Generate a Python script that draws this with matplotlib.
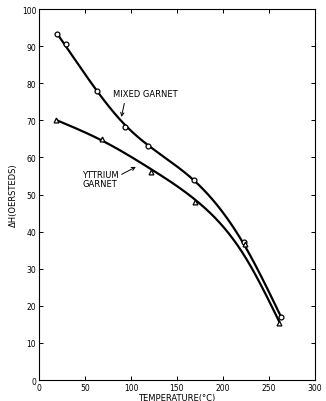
import numpy as np
import matplotlib.pyplot as plt

# values
mixed_t = [20, 29, 63, 93, 119, 169, 223, 263]
mixed_dh = [93.2, 90.7, 77.9, 68.2, 63.2, 54.0, 37.2, 17.0]
yttrium_t = [19, 69, 122, 170, 224, 261]
yttrium_dh = [70.0, 65.0, 56.1, 48.0, 36.6, 15.3]

x_ticks = [0, 50, 100, 150, 200, 250, 300]
y_ticks = [0, 10, 20, 30, 40, 50, 60, 70, 80, 90, 100]


def smooth(t, v, lam):
	# hand drawn look: penalised (whittaker) smoother on a 1 degree grid
	x = np.asarray(t, float)
	y = np.asarray(v, float)
	tt = np.arange(x[0], x[-1] + 0.5, 1.0)
	n = len(tt)
	idx = np.rint(x - x[0]).astype(int)
	w = np.zeros(n)
	z = np.zeros(n)
	w[idx] = 1.0
	w[idx[0]] = w[idx[-1]] = 4.0
	z[idx] = y
	D = np.diff(np.eye(n), 2, axis=0)
	vv = np.linalg.solve(np.diag(w) + lam * D.T @ D, w * z)
	return tt, vv


fig = plt.figure(figsize=(3.26, 4.02), dpi=100)
ax = fig.add_axes([0.1196, 0.052, 0.8464, 0.923])

tt, vv = smooth(mixed_t, mixed_dh, 5000)
ax.plot(tt, vv, color='black', lw=1.6)
ax.plot(mixed_t, mixed_dh, 'o', ms=3.5, mfc='white', mec='black', mew=0.9)

tt, vv = smooth(yttrium_t, yttrium_dh, 15000)
ax.plot(tt, vv, color='black', lw=1.6)
ax.plot(yttrium_t, yttrium_dh, '^', ms=3.5, mfc='white', mec='black', mew=0.9)

ax.annotate('MIXED GARNET', xy=(89, 70.2), xytext=(80, 76.6), fontsize=6,
	arrowprops=dict(arrowstyle='->', color='black', lw=0.7, relpos=(0.2, 0)))
ax.annotate('YTTRIUM\nGARNET', xy=(108, 57.8), xytext=(47, 52.2), fontsize=6,
	linespacing=1.0, arrowprops=dict(arrowstyle='->', color='black', lw=0.7,
	shrinkA=0, relpos=(1, 0.7)))

ax.set_xlim(0, 300)
ax.set_ylim(0, 100)
ax.set_xticks(x_ticks)
ax.set_yticks(y_ticks)
ax.tick_params(direction='in', labelsize=5.5, length=3, width=0.7,
	top=True, right=True, pad=2)
for s in ax.spines.values():
	s.set_linewidth(0.8)
ax.set_xlabel('TEMPERATURE(°C)', fontsize=6, labelpad=1)
ax.set_ylabel('ΔH(OERSTEDS)', fontsize=6, labelpad=3)

fig.savefig('out.png', dpi=100)
